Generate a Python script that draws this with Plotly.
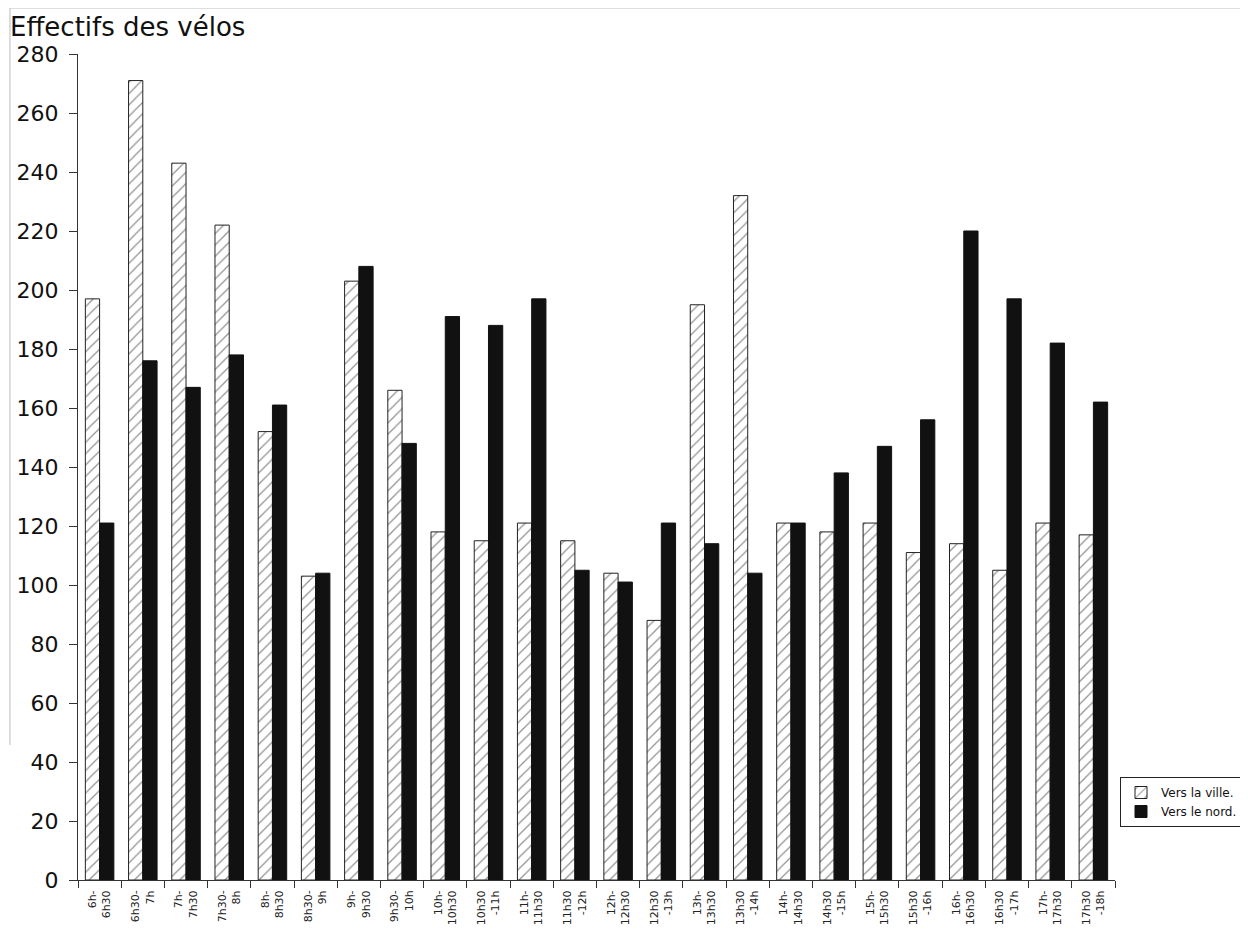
import plotly.graph_objects as go

categories = ["6h-<br>6h30", "6h30-<br>7h", "7h-<br>7h30", "7h30-<br>8h", "8h-<br>8h30", "8h30-<br>9h",
              "9h-<br>9h30", "9h30-<br>10h", "10h-<br>10h30", "10h30<br>-11h", "11h-<br>11h30", "11h30<br>-12h",
              "12h-<br>12h30", "12h30<br>-13h", "13h-<br>13h30", "13h30<br>-14h", "14h-<br>14h30", "14h30<br>-15h",
              "15h-<br>15h30", "15h30<br>-16h", "16h-<br>16h30", "16h30<br>-17h", "17h-<br>17h30", "17h30<br>-18h"]
vers_ville = [197, 271, 243, 222, 152, 103, 203, 166, 118, 115, 121, 115,
              104, 88, 195, 232, 121, 118, 121, 111, 114, 105, 121, 117]
vers_nord = [121, 176, 167, 178, 161, 104, 208, 148, 191, 188, 197, 105,
             101, 121, 114, 104, 121, 138, 147, 156, 220, 197, 182, 162]
y_ticks = list(range(0, 281, 20))

fig = go.Figure()
fig.add_trace(go.Bar(
    x=categories, y=vers_ville, name="Vers la ville.",
    marker=dict(color="white", line=dict(color="#222", width=1),
                pattern=dict(shape="/", fgcolor="#222", bgcolor="white", size=8, solidity=0.15)),
))
fig.add_trace(go.Bar(
    x=categories, y=vers_nord, name="Vers le nord.",
    marker=dict(color="#111", line=dict(color="#111", width=1)),
))

FONT = "DejaVu Sans"
W, H = 1240, 940
fig.update_layout(
    width=W, height=H,
    margin=dict(l=70, r=133, t=46, b=68, autoexpand=False),
    paper_bgcolor="white", plot_bgcolor="white",
    barmode="group", bargap=0.34, bargroupgap=0,
    font=dict(family=FONT, color="#111"),
    title=dict(text="Effectifs des vélos", font=dict(family=FONT, size=26, color="#111"),
               x=2 / W, xanchor="left", xref="container",
               y=1 - 19 / H, yanchor="middle", yref="container"),
    xaxis=dict(type="category", tickson="boundaries", ticks="outside", ticklen=7,
               tickcolor="#333", showline=True, linecolor="#333", linewidth=1,
               tickangle=-90, tickfont=dict(family=FONT, size=11, color="#222"),
               ticklabelstandoff=5, showgrid=False, automargin=False),
    yaxis=dict(range=[0, 280], tickvals=y_ticks, ticks="outside", ticklen=8,
               tickcolor="#333", showline=True, linecolor="#333", linewidth=1,
               tickfont=dict(family=FONT, size=22, color="#111"), showgrid=False,
               zeroline=False, ticklabelstandoff=6, automargin=False),
    legend=dict(xref="container", yref="container", x=1112 / W, y=1 - 769 / H,
                xanchor="left", yanchor="top",
                bordercolor="#222", borderwidth=1, bgcolor="white",
                font=dict(family=FONT, size=12, color="#111"),
                itemwidth=30, tracegroupgap=0),
    showlegend=True,
)

# light frame lines from the original scan
fig.add_shape(type="line", xref="paper", yref="paper",
              x0=-0.0656, x1=1.1205, y0=1.0557, y1=1.0557,
              line=dict(color="#bbb", width=1))
fig.add_shape(type="line", xref="paper", yref="paper",
              x0=-0.0656, x1=-0.0656, y0=1.0557, y1=0.1634,
              line=dict(color="#bbb", width=1))

fig.write_html("out.html")
